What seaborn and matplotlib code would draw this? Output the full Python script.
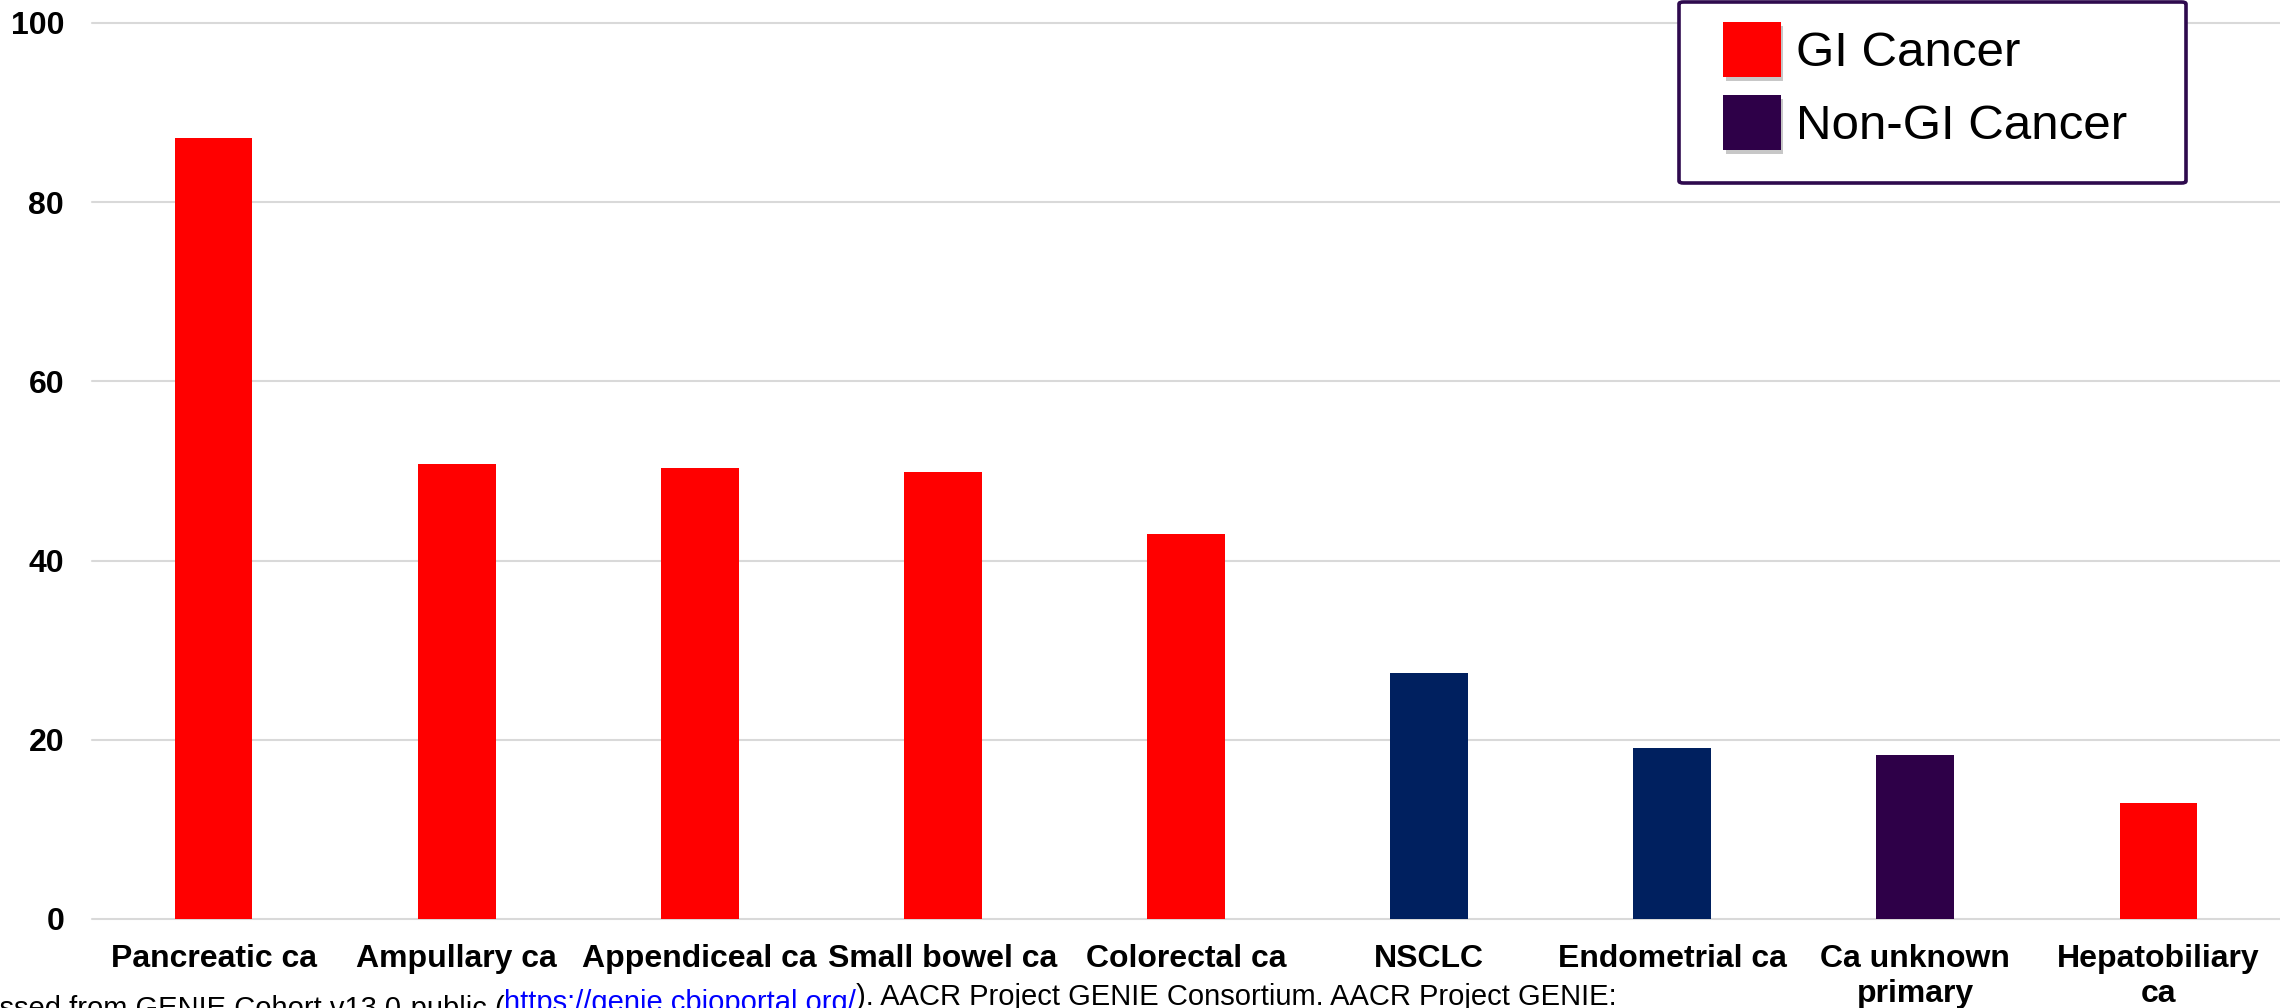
import matplotlib
matplotlib.use("Agg")
import matplotlib.pyplot as plt
import matplotlib.patheffects as pe
from matplotlib.patches import Patch, FancyBboxPatch
import seaborn as sns
import pandas as pd

# Share of cases per cancer type (%)
categories = [
    "Pancreatic ca", "Ampullary ca", "Appendiceal ca", "Small bowel ca",
    "Colorectal ca", "NSCLC", "Endometrial ca", "Ca unknown\nprimary",
    "Hepatobiliary\nca",
]
values = [87.2, 50.8, 50.3, 49.9, 43.0, 27.5, 19.1, 18.3, 12.9]
bar_colors = ["#FF0000", "#FF0000", "#FF0000", "#FF0000", "#FF0000",
              "#00205F", "#00205F", "#2E0048", "#FF0000"]
y_ticks = [0, 20, 40, 60, 80, 100]
legend_labels = ["GI Cancer", "Non-GI Cancer"]
legend_colors = ["#FF0000", "#2E0048"]
source_note = ["Data accessed from GENIE Cohort v13.0-public (",
               "https://genie.cbioportal.org/",
               "). AACR Project GENIE Consortium. AACR Project GENIE:"]

sns.set_theme(style="white")
plt.rcParams["font.family"] = ["Liberation Sans", "DejaVu Sans"]
plt.rcParams["text.color"] = "black"

W, H = 2280, 1008
fig = plt.figure(figsize=(W / 100, H / 100), dpi=100)
ax = fig.add_axes([92 / W, 1 - 919 / H, 1 - 92 / W, (919 - 23) / H])

df = pd.DataFrame({"category": categories, "value": values})
sns.barplot(data=df, x="category", y="value", hue="category",
            palette=bar_colors, legend=False, width=0.32,
            linewidth=0, saturation=1, ax=ax)

ax.set_xlim(-0.5, len(categories) - 0.5)
ax.set_ylim(0, 100)
ax.set_yticks(y_ticks)
ax.set_xlabel("")
ax.set_ylabel("")
for s in ax.spines.values():
    s.set_visible(False)
ax.yaxis.grid(True, color="#D9D9D9", linewidth=1.5)
ax.set_axisbelow(True)
for gl in ax.get_ygridlines():
    gl.set_clip_on(False)

ax.tick_params(axis="y", length=0, pad=20, labelsize=23)
ax.tick_params(axis="x", length=0, pad=18, labelsize=23)
for lab in ax.get_yticklabels() + ax.get_xticklabels():
    lab.set_fontweight("bold")
    lab.set_color("black")
for lab in ax.get_xticklabels():
    lab.set_linespacing(1.2)

# Legend box
frame = FancyBboxPatch((1679 / W, 1 - 183 / H), 507 / W, 181 / H,
                       boxstyle="round,pad=0,rounding_size=0.002",
                       transform=fig.transFigure, facecolor="white",
                       edgecolor="#2E0A4E", linewidth=2.6, zorder=5)
fig.patches.append(frame)

handles = [Patch(facecolor=c, edgecolor="none") for c in legend_colors]
leg = fig.legend(handles, legend_labels, loc="upper left",
                 bbox_to_anchor=(1723 / W, 1 - 22 / H),
                 bbox_transform=fig.transFigure, frameon=False,
                 fontsize=35.5, handlelength=1.17, handleheight=1.34,
                 handletextpad=0.32, labelspacing=0.36, borderpad=0,
                 borderaxespad=0, labelcolor="black")
leg.set_zorder(6)
for h in leg.legend_handles:
    h.set_path_effects([pe.withSimplePatchShadow(offset=(2, -3),
                                                 shadow_rgbFace="#000000",
                                                 alpha=0.22), pe.Normal()])

# Source note along the bottom edge, link in blue
fs_note = 21
t3 = fig.text(1617 / W, 3 / H, source_note[2], ha="right", va="baseline",
              fontsize=fs_note, color="black")
t2 = ax.annotate(source_note[1], xy=(0, 0), xycoords=t3, ha="right",
                 va="baseline", fontsize=fs_note, color="#0000FF",
                 annotation_clip=False)
t1 = ax.annotate(source_note[0], xy=(0, 0), xycoords=t2, ha="right",
                 va="baseline", fontsize=fs_note, color="black",
                 annotation_clip=False)

fig.savefig("out.png", dpi=100, facecolor="white")
